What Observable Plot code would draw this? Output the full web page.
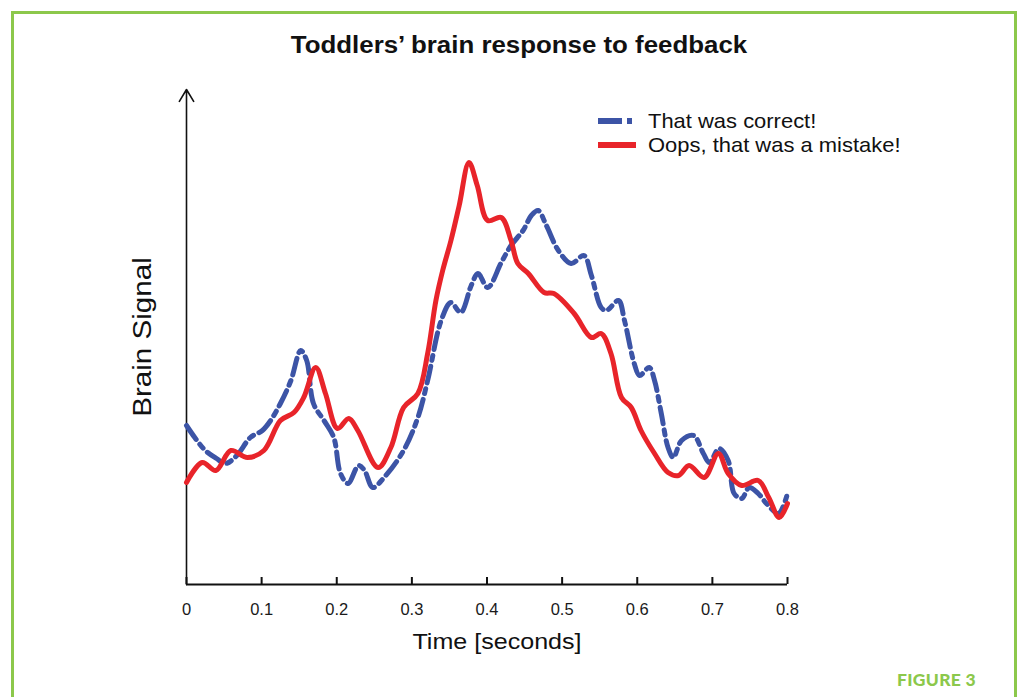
<!DOCTYPE html>
<html><head><meta charset="utf-8">
<script src="https://cdn.jsdelivr.net/npm/d3@7"></script>
<script src="https://cdn.jsdelivr.net/npm/@observablehq/plot@0.6"></script>
<style>
body{margin:0;background:#fff;font-family:"Liberation Sans",Arial,sans-serif;}
#wrap{position:relative;width:1022px;height:697px;overflow:hidden;background:#fff}
#border{position:absolute;left:11px;top:11px;width:1006px;height:720px;border:3px solid #8cc84b;border-bottom:none;box-sizing:border-box}
#title{position:absolute;left:519px;top:45px;transform:translate(-50%,-50%) scaleX(1.1);font-weight:bold;font-size:23.5px;color:#111;white-space:nowrap}
#chart{position:absolute;left:0;top:0}
#ylab{position:absolute;left:142px;top:337px;transform:translate(-50%,-50%) rotate(-90deg) scaleX(1.16);font-size:25.5px;color:#111;white-space:nowrap}
#xlab{position:absolute;left:497px;top:642px;transform:translate(-50%,-50%) scaleX(1.14);font-size:22px;color:#111;white-space:nowrap}
.leg{position:absolute;left:598px;height:24px;font-size:21px;color:#111;white-space:nowrap;display:flex;align-items:center;transform:translateY(-50%)}
.leg svg{margin-right:12px}
.leg span{display:inline-block;transform:scaleX(1.045);transform-origin:left center}
#fig{position:absolute;left:897px;top:669px;font-family:Lato,sans-serif;font-weight:900;font-size:17.5px;color:#8cc84b;letter-spacing:0.3px}
</style></head>
<body><div id="wrap">
<div id="border"></div>
<div id="title">Toddlers’ brain response to feedback</div>
<div id="chart"></div>
<div id="ylab">Brain Signal</div>
<div id="xlab">Time [seconds]</div>
<div id="leg1" class="leg" style="top:121px"></div>
<div id="leg2" class="leg" style="top:145px"></div>
<div id="fig">FIGURE 3</div>
</div>
<script>
const seriesNames = ["That was correct!", "Oops, that was a mistake!"];
const xTicks = [0, 0.1, 0.2, 0.3, 0.4, 0.5, 0.6, 0.7, 0.8];
const xTickLabels = ["0", "0.1", "0.2", "0.3", "0.4", "0.5", "0.6", "0.7", "0.8"];

const correctTime = [0,0.011,0.025,0.04,0.052,0.067,0.085,0.101,0.112,0.125,0.139,0.152,0.16,0.169,0.183,0.196,0.205,0.215,0.229,0.237,0.248,0.263,0.289,0.308,0.321,0.339,0.352,0.365,0.379,0.388,0.401,0.419,0.432,0.448,0.459,0.468,0.479,0.495,0.512,0.529,0.539,0.552,0.559,0.575,0.583,0.596,0.603,0.616,0.623,0.632,0.641,0.648,0.659,0.675,0.688,0.696,0.709,0.721,0.729,0.739,0.749,0.761,0.772,0.788,0.8];
const correctSignal = [3.18,2.94,2.68,2.52,2.42,2.58,2.94,3.08,3.28,3.62,4.08,4.68,4.48,3.62,3.28,2.94,2.22,2.02,2.38,2.28,1.94,2.14,2.68,3.34,4.08,5.28,5.64,5.44,5.98,6.22,5.94,6.44,6.78,7.08,7.38,7.48,7.18,6.68,6.42,6.58,6.18,5.54,5.48,5.68,5.28,4.42,4.18,4.34,4.08,3.42,2.74,2.54,2.88,2.98,2.62,2.44,2.72,2.48,1.82,1.72,1.94,1.82,1.62,1.42,1.82];

const mistakeTime = [0,0.021,0.039,0.059,0.081,0.103,0.125,0.143,0.156,0.172,0.185,0.201,0.216,0.228,0.255,0.272,0.289,0.308,0.321,0.332,0.341,0.352,0.363,0.376,0.387,0.401,0.419,0.432,0.441,0.455,0.476,0.489,0.516,0.539,0.552,0.565,0.579,0.592,0.605,0.623,0.641,0.655,0.669,0.689,0.708,0.721,0.739,0.761,0.775,0.789,0.8];
const mistakeSignal = [2.04,2.44,2.28,2.68,2.54,2.68,3.28,3.44,3.74,4.34,3.82,3.12,3.32,3.08,2.34,2.74,3.54,3.82,4.62,5.68,6.28,6.88,7.58,8.44,7.98,7.28,7.34,6.88,6.42,6.22,5.84,5.82,5.42,4.94,5.02,4.62,3.74,3.54,3.08,2.62,2.24,2.18,2.38,2.14,2.62,2.22,1.98,2.08,1.74,1.34,1.62];

const colors = ["#3c54a6", "#e8242a"];
const dash = "17,6,5,6";

const correctRows = correctTime.map((t, i) => ({t, v: correctSignal[i]}));
const mistakeRows = mistakeTime.map((t, i) => ({t, v: mistakeSignal[i]}));

const W = 1022, H = 697, mL = 186, mR = 1022 - 787, mT = 84, mB = 697 - 584;
const chart = Plot.plot({
  width: W, height: H,
  marginLeft: mL, marginRight: mR, marginTop: mT, marginBottom: mB,
  x: {domain: [0, 0.8], axis: null},
  y: {domain: [0, 10], axis: null},
  style: {background: "transparent", fontFamily: "Liberation Sans, Arial, sans-serif", color: "#222"},
  marks: [
    Plot.text(xTicks, {x: d => d, y: 0, text: (d, i) => xTickLabels[i], dy: 25, fontSize: 16.5, fontFamily: "Liberation Sans, Arial, sans-serif", fill: "#1a1a1a", lineAnchor: "middle"}),
    Plot.tickX(xTicks, {x: d => d, insetTop: (H - mT - mB) - 7, stroke: "#111", strokeWidth: 2}),
    Plot.ruleY([0], {stroke: "#111", strokeWidth: 2}),
    Plot.arrow([0], {x1: 0, y1: 0, x2: 0, y2: 9.9, headLength: 13, headAngle: 62, stroke: "#111", strokeWidth: 1.6}),
    Plot.line(correctRows, {x: "t", y: "v", stroke: colors[0], strokeWidth: 5, strokeDasharray: dash, curve: "catmull-rom"}),
    Plot.line(mistakeRows, {x: "t", y: "v", stroke: colors[1], strokeWidth: 5, curve: "catmull-rom"})
  ]
});
document.getElementById("chart").appendChild(chart);

document.getElementById("leg1").innerHTML =
  `<svg width="38" height="8"><line x1="0" y1="4" x2="36" y2="4" stroke="${colors[0]}" stroke-width="6" stroke-dasharray="24,5,5,20"/></svg><span>${seriesNames[0]}</span>`;
document.getElementById("leg2").innerHTML =
  `<svg width="38" height="8"><line x1="0" y1="4" x2="38" y2="4" stroke="${colors[1]}" stroke-width="6"/></svg><span>${seriesNames[1]}</span>`;
</script>
</body></html>
